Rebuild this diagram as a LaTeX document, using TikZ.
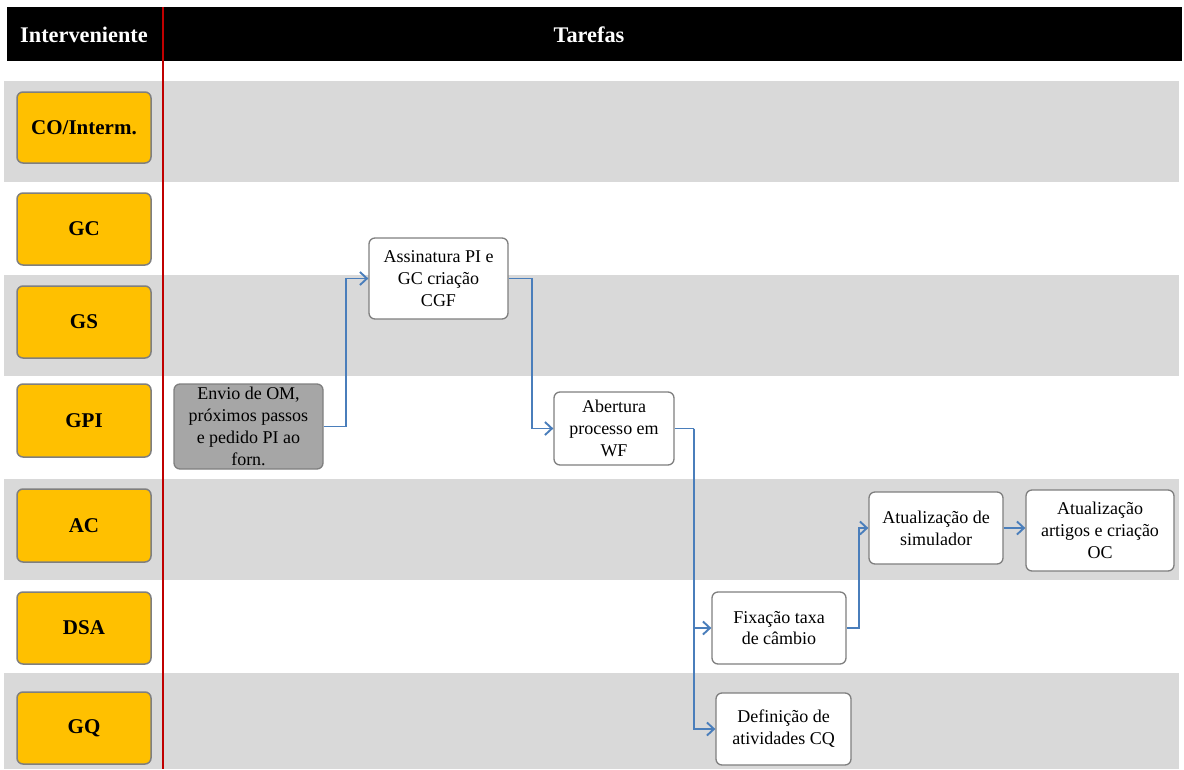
\documentclass[tikz,border=0pt]{standalone}
\usepackage{fontspec}
\setmainfont{Liberation Serif}
\usetikzlibrary{arrows.meta}
\definecolor{hdr}{HTML}{000000}
\definecolor{band}{HTML}{D9D9D9}
\definecolor{gold}{HTML}{FFC000}
\definecolor{bord}{HTML}{7F7F7F}
\definecolor{conn}{HTML}{4A7EBB}
\definecolor{redl}{HTML}{C00000}
\definecolor{darkfill}{HTML}{A6A6A6}
\tikzset{
  lanebox/.style={fill=gold, draw=bord, line width=1.5pt, rounded corners=6pt,
    minimum width=134pt, minimum height=72pt, inner sep=0pt,
    font=\bfseries\fontsize{21}{24}\selectfont},
  taskbox/.style={fill=white, draw=bord, line width=1.3pt, rounded corners=6pt,
    inner sep=0pt, align=center, font=\fontsize{18}{21.8}\selectfont},
  hdrtext/.style={text=white, font=\bfseries\fontsize{22.3}{25}\selectfont},
  flow/.style={draw=conn, line width=1.9pt, -{Straight Barb[length=7pt,width=13pt]}},
}
\begin{document}
\begin{tikzpicture}[x=1pt,y=-1pt]
\useasboundingbox (0,0) rectangle (1184,769);
% header
\fill[hdr] (7,7) rectangle (1182,61);
\node[hdrtext] (hint) at (84,35) {Interveniente};
\node[hdrtext] (htar) at (589,35) {Tarefas};
% bands
\fill[band] (4,81) rectangle (1179,182);
\fill[band] (4,275) rectangle (1179,376);
\fill[band] (4,479) rectangle (1179,580);
\fill[band] (4,673) rectangle (1179,769);
% red divider
\draw[redl, line width=1.5pt] (163,7) -- (163,769);
% lane boxes
\node[lanebox, minimum height=71pt] (co) at (84,127.5) {CO/Interm.};
\node[lanebox] (gc) at (84,229) {GC};
\node[lanebox] (gs) at (84,322) {GS};
\node[lanebox, minimum height=73pt] (gpi) at (84,420.5) {GPI};
\node[lanebox, minimum height=73pt] (ac) at (84,525.5) {AC};
\node[lanebox] (dsa) at (84,628) {DSA};
\node[lanebox] (gq) at (84,728) {GQ};
% tasks
\node[taskbox, fill=darkfill, minimum width=149pt, minimum height=85pt] (envio) at (248.5,426.5) {Envio de OM,\\próximos passos\\e pedido PI ao\\forn.};
\node[taskbox, minimum width=139pt, minimum height=81pt] (assin) at (438.5,278.5) {Assinatura PI e\\GC criação\\CGF};
\node[taskbox, minimum width=120pt, minimum height=73pt] (abert) at (614,428.5) {Abertura\\processo em\\WF};
\node[taskbox, minimum width=134pt, minimum height=72pt] (fix) at (779,628) {Fixação taxa\\de câmbio};
\node[taskbox, minimum width=135pt, minimum height=72pt] (def) at (783.5,729) {Definição de\\atividades CQ};
\node[taskbox, minimum width=134pt, minimum height=72pt] (sim) at (936,528) {Atualização de\\simulador};
\node[taskbox, minimum width=148pt, minimum height=81pt] (art) at (1100,530.5) {Atualização\\artigos e criação\\OC};
% connectors
\draw[flow] (envio.east) -- ++(22,0) |- (assin.west);
\draw[flow] (assin.east) -- ++(23,0) |- (abert.west);
\draw[draw=conn, line width=1.9pt] (abert.east) -- ++(19,0) coordinate (jn);
\draw[flow] (jn) |- (fix.west);
\draw[flow] (jn) |- (def.west);
\draw[flow] (fix.east) -- ++(12,0) |- (sim.west);
\draw[flow] (sim.east) -- (sim.east -| art.west);
\end{tikzpicture}
\end{document}
